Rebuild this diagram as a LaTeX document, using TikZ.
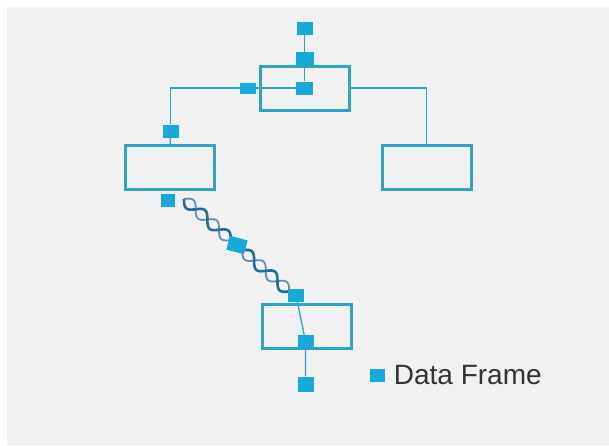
\documentclass[tikz,border=0pt]{standalone}
\usepackage{fontspec}
\setmainfont{Liberation Sans}
\usetikzlibrary{positioning}

\definecolor{bggray}{HTML}{F1F1F1}
\definecolor{boxblue}{HTML}{2CA3C7}
\definecolor{frameblue}{HTML}{17A9DA}
\definecolor{cabledark}{HTML}{1F6E99}
\definecolor{cablelight}{HTML}{5F90B3}
\definecolor{labelgray}{HTML}{333333}

\begin{document}
\begin{tikzpicture}[x=1pt,y=-1pt,
  switchbox/.style={draw=boxblue,line width=3pt,minimum width=89pt,minimum height=44pt,inner sep=0pt},
  dataframe/.style={fill=frameblue,minimum width=16pt,minimum height=13pt,inner sep=0pt},
  link/.style={draw=boxblue,line width=1.3pt}]
\fill[white] (0,0) rectangle (609,445);
\fill[bggray] (7,7) rectangle (609,445);
\useasboundingbox (0,0) rectangle (609,445);

% switches
\node[switchbox] (topsw) at (304.5,88) {};
\node[switchbox] (lsw) at (169.5,167.5) {};
\node[switchbox] (rsw) at (426.5,167.5) {};
\node[switchbox] (bsw) at (307,326.5) {};

% data frames
\node[dataframe] (f1) at (304.5,28) {};
\node[dataframe,minimum width=18pt] (f2) at (304.5,58.5) {};
\node[dataframe,minimum width=17pt] (f3) at (304.5,88) {};
\node[dataframe,minimum height=11pt] (f4) at (248,88) {};
\node[dataframe] (f5) at (170.5,131) {};
\node[dataframe,minimum width=14pt] (f6) at (168,200) {};
\node[dataframe,minimum width=18pt,minimum height=14pt,rotate=-15] (f7) at (237,245) {};
\node[dataframe] (f8) at (296,295) {};
\node[dataframe] (f9) at (305.5,341.5) {};
\node[dataframe,minimum height=15pt] (f10) at (305.5,384) {};

% links
\draw[link] (f1) -- (f2) -- (f3);
\draw[link] (f3) -- (f4);
\draw[link] (f4) -| (f5);
\draw[link] (f5) -- (lsw);
\draw[link] (topsw.east) -| (rsw.north);
\draw[link] (f8) -- (f9) -- (f10);

% twisted pair
\coordinate (cs) at (184,199);
\begin{scope}[shift={(cs)},rotate=-41.3]
  \draw[cablelight,line width=1.8pt] plot[domain=0:140,samples=160,smooth] (\x,{-5.5*sin(\x/31.1*360)});
  \draw[cabledark,line width=2.6pt] plot[domain=0:140,samples=160,smooth] (\x,{5.5*sin(\x/31.1*360)});
\end{scope}
\node[dataframe,minimum width=18pt,minimum height=14pt,rotate=-15] at (f7) {};
\node[dataframe] at (f8) {};

% legend
\node[dataframe,minimum width=15pt,minimum height=13pt] (key) at (377,375) {};
\node[right=9pt of key,inner sep=0pt,text=labelgray,font=\fontsize{28}{30}\selectfont] (keytext) {Data Frame};
\end{tikzpicture}
\end{document}
